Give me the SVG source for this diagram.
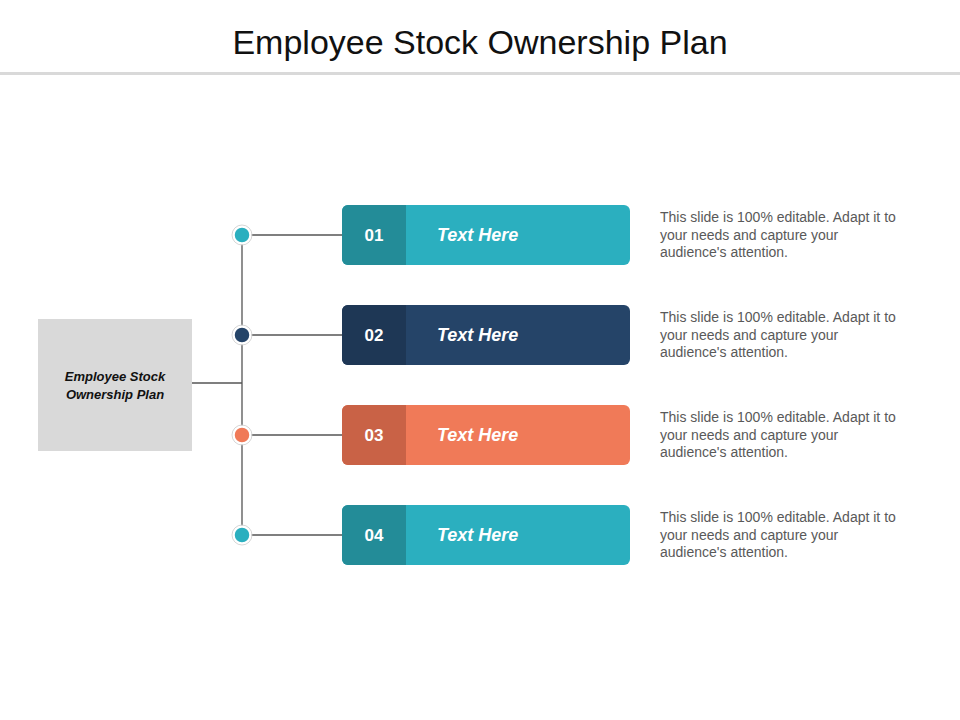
<svg xmlns="http://www.w3.org/2000/svg" width="960" height="720" viewBox="0 0 960 720">
<style>
.t{font-family:"Liberation Sans",Arial,sans-serif}
.n{font-size:17px;font-weight:bold;fill:#fff;text-anchor:middle}
.h{font-size:18px;font-weight:bold;font-style:italic;fill:#fff}
.d{font-size:14px;fill:#595959}
.c{stroke:#555;stroke-width:1.3;fill:none}
.dot{stroke:#fff;stroke-width:2.5}
</style>
<rect width="960" height="720" fill="#fff"/>
<text class="t" x="480" y="54" font-size="34" text-anchor="middle" fill="#111">Employee Stock Ownership Plan</text>
<rect x="0" y="72" width="960" height="3" fill="#d9d9d9"/>
<g id="connectors">
<path class="c" d="M242 235V535M192 383H242M242 235H342M242 335H342M242 435H342M242 535H342" stroke-width="2"/>
</g>
<g id="center">
<rect x="38" y="319" width="154" height="132" fill="#d9d9d9"/>
<text class="t" x="115" y="381" font-size="13" font-weight="bold" font-style="italic" text-anchor="middle" fill="#111">Employee Stock</text>
<text class="t" x="115" y="399" font-size="13" font-weight="bold" font-style="italic" text-anchor="middle" fill="#111">Ownership Plan</text>
</g>
<g id="item1">
<circle class="dot" cx="242" cy="235" r="8.5" fill="#2bafbf"/>
<circle cx="242" cy="235" r="10" fill="none" stroke="#ccc" stroke-width="0.8"/>
<rect x="342" y="205" width="288" height="60" rx="6" fill="#2bafbf"/>
<path d="M348 205H406V265H348A6 6 0 0 1 342 259V211A6 6 0 0 1 348 205Z" fill="#238c98"/>
<text class="t n" x="374" y="241">01</text>
<text class="t h" x="437" y="241">Text Here</text>
<text class="t d" x="660" y="222">This slide is 100% editable. Adapt it to</text>
<text class="t d" x="660" y="240">your needs and capture your</text>
<text class="t d" x="660" y="257">audience's attention.</text>
</g>
<g id="item2">
<circle class="dot" cx="242" cy="335" r="8.5" fill="#254468"/>
<circle cx="242" cy="335" r="10" fill="none" stroke="#ccc" stroke-width="0.8"/>
<rect x="342" y="305" width="288" height="60" rx="6" fill="#254468"/>
<path d="M348 305H406V365H348A6 6 0 0 1 342 359V311A6 6 0 0 1 348 305Z" fill="#1e3755"/>
<text class="t n" x="374" y="341">02</text>
<text class="t h" x="437" y="341">Text Here</text>
<text class="t d" x="660" y="322">This slide is 100% editable. Adapt it to</text>
<text class="t d" x="660" y="340">your needs and capture your</text>
<text class="t d" x="660" y="357">audience's attention.</text>
</g>
<g id="item3">
<circle class="dot" cx="242" cy="435" r="8.5" fill="#f07a58"/>
<circle cx="242" cy="435" r="10" fill="none" stroke="#ccc" stroke-width="0.8"/>
<rect x="342" y="405" width="288" height="60" rx="6" fill="#f07a58"/>
<path d="M348 405H406V465H348A6 6 0 0 1 342 459V411A6 6 0 0 1 348 405Z" fill="#c96246"/>
<text class="t n" x="374" y="441">03</text>
<text class="t h" x="437" y="441">Text Here</text>
<text class="t d" x="660" y="422">This slide is 100% editable. Adapt it to</text>
<text class="t d" x="660" y="440">your needs and capture your</text>
<text class="t d" x="660" y="457">audience's attention.</text>
</g>
<g id="item4">
<circle class="dot" cx="242" cy="535" r="8.5" fill="#2bafbf"/>
<circle cx="242" cy="535" r="10" fill="none" stroke="#ccc" stroke-width="0.8"/>
<rect x="342" y="505" width="288" height="60" rx="6" fill="#2bafbf"/>
<path d="M348 505H406V565H348A6 6 0 0 1 342 559V511A6 6 0 0 1 348 505Z" fill="#238c98"/>
<text class="t n" x="374" y="541">04</text>
<text class="t h" x="437" y="541">Text Here</text>
<text class="t d" x="660" y="522">This slide is 100% editable. Adapt it to</text>
<text class="t d" x="660" y="540">your needs and capture your</text>
<text class="t d" x="660" y="557">audience's attention.</text>
</g>
</svg>
